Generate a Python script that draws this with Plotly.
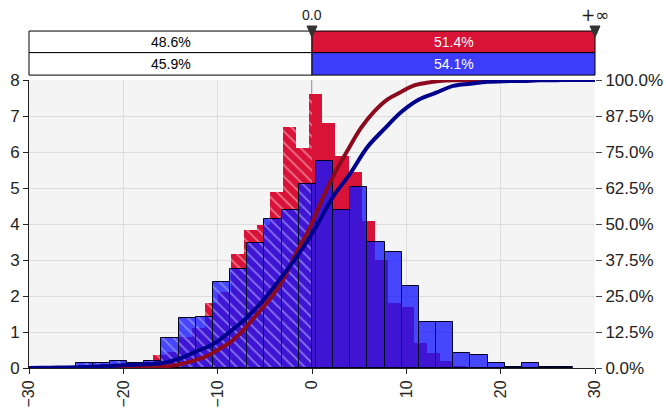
import numpy as np
import plotly.graph_objects as go

# ---------------- data ----------------
X_MIN, X_MAX = -30, 30
Y_MAX = 8
delimiters = [0.0, X_MAX]
delimiter_labels = ["0.0", "+∞"]

# red series histogram (density, % per unit)
red_start = -18.21
red_width = 1.38
red_heights = [0.1, 0.35, 0.45, 0.85, 1.1, 1.8, 2.1, 3.18, 3.83, 3.97, 4.9, 6.7, 6.1,
               7.6, 6.8, 5.89, 5.45, 4.08, 3.0, 1.8, 1.7, 0.7, 0.43, 0.2, 0.04, 0.02, 0.02]

# blue series histogram
blue_start = -30.52
blue_width = 1.82
blue_heights = [0.04, 0.04, 0.04, 0.13, 0.13, 0.19, 0.13, 0.2, 0.82, 1.38, 1.41, 2.39,
                2.75, 3.48, 4.14, 4.39, 5.11, 5.76, 4.39, 5.02, 3.49, 3.23, 2.29, 1.29,
                1.29, 0.41, 0.36, 0.13, 0.03, 0.13, 0.03, 0.03]

red_split = ["48.6%", "51.4%"]
blue_split = ["45.9%", "54.1%"]

RED = "#d91238"
RED_DARK = "#8c0a1e"
BLUE = "rgba(20,20,255,0.78)"
BLUE_HEADER = "#3c3cfa"
BLUE_DARK = "#00008c"
FONT = "Liberation Sans"


def split_bins(start, width, heights, d):
    hx, hw, hh, px, pw, ph = [], [], [], [], [], []
    for i, h in enumerate(heights):
        a = start + i * width
        b = a + width
        if b <= d:
            hx.append((a + b) / 2); hw.append(b - a); hh.append(h)
        elif a >= d:
            px.append((a + b) / 2); pw.append(b - a); ph.append(h)
        else:
            hx.append((a + d) / 2); hw.append(d - a); hh.append(h)
            px.append((d + b) / 2); pw.append(b - d); ph.append(h)
    return (hx, hw, hh), (px, pw, ph)


def cdf(start, width, heights):
    h = np.array(heights, dtype=float)
    edges = start + width * np.arange(len(h) + 1)
    cum = np.concatenate([[0.0], np.cumsum(h * width)])
    pct = cum / cum[-1] * 100
    xs = list(edges)
    ys = list(pct)
    if xs[0] > X_MIN:
        xs = [X_MIN] + xs
        ys = [0.0] + ys
    if xs[-1] < X_MAX:
        xs = xs + [X_MAX]
        ys = ys + [100.0]
    # map % onto the left (density) axis scale so draw order is kept
    return xs, [v / 100 * Y_MAX for v in ys]


fig = go.Figure()

d0 = delimiters[0]
(rhx, rhw, rhh), (rpx, rpw, rph) = split_bins(red_start, red_width, red_heights, d0)
(bhx, bhw, bhh), (bpx, bpw, bph) = split_bins(blue_start, blue_width, blue_heights, d0)

fig.add_trace(go.Bar(x=rhx, y=rhh, width=rhw, hoverinfo="skip",
                     marker=dict(color=RED, line=dict(width=0),
                                 pattern=dict(shape="\\", size=8, solidity=0.22,
                                              fgcolor="rgba(255,255,255,0.85)", bgcolor=RED))))
fig.add_trace(go.Bar(x=rpx, y=rph, width=rpw, hoverinfo="skip",
                     marker=dict(color=RED, line=dict(width=0))))
rx, ry = cdf(red_start, red_width, red_heights)
fig.add_trace(go.Scatter(x=rx, y=ry, mode="lines", hoverinfo="skip",
                         line=dict(color=RED_DARK, width=4, shape="spline", smoothing=1.0)))
fig.add_trace(go.Bar(x=bhx, y=bhh, width=bhw, hoverinfo="skip",
                     marker=dict(color=BLUE, line=dict(width=1, color="#000020"),
                                 pattern=dict(shape="\\", size=8, solidity=0.22,
                                              fgcolor="rgba(255,255,255,0.7)", bgcolor=BLUE))))
fig.add_trace(go.Bar(x=bpx, y=bph, width=bpw, hoverinfo="skip",
                     marker=dict(color=BLUE, line=dict(width=1, color="#000020"))))
bx, by = cdf(blue_start, blue_width, blue_heights)
fig.add_trace(go.Scatter(x=bx, y=by, mode="lines", hoverinfo="skip",
                         line=dict(color=BLUE_DARK, width=4, shape="spline", smoothing=1.0)))
# invisible trace to carry the right-hand percentage axis
fig.add_trace(go.Scatter(x=[X_MIN, X_MAX], y=[0, 100], yaxis="y2", mode="lines",
                         line=dict(width=0), opacity=0, hoverinfo="skip"))

# ---------------- header (delimiter bars) ----------------
def xp(v):
    return (v - X_MIN) / (X_MAX - X_MIN)

shapes = []
annotations = []
rows = [(1.095, 1.170, RED, red_split), (1.017, 1.095, BLUE_HEADER, blue_split)]
for y0, y1, col, labels in rows:
    shapes.append(dict(type="rect", xref="paper", yref="paper", x0=0, x1=xp(d0), y0=y0, y1=y1,
                       fillcolor="white", line=dict(color="black", width=1)))
    shapes.append(dict(type="rect", xref="paper", yref="paper", x0=xp(d0), x1=xp(delimiters[1]),
                       y0=y0, y1=y1, fillcolor=col, line=dict(color="black", width=1)))
    annotations.append(dict(xref="paper", yref="paper", x=xp(d0) / 2, y=(y0 + y1) / 2,
                            xanchor="center", yanchor="middle",
                            text=labels[0], showarrow=False,
                            font=dict(family=FONT, size=14, color="black")))
    annotations.append(dict(xref="paper", yref="paper", x=(xp(d0) + xp(delimiters[1])) / 2,
                            y=(y0 + y1) / 2, xanchor="center", yanchor="middle",
                            text=labels[1], showarrow=False,
                            font=dict(family=FONT, size=14, color="white")))

# delimiter vertical line through plot (below bars)
shapes.append(dict(type="line", xref="x", yref="paper", x0=d0, x1=d0, y0=0, y1=1.0,
                   line=dict(color="#555555", width=1), layer="below"))

half = 0.0088
label_fonts = [(FONT, 14), ("DejaVu Sans", 17)]
for d, lab, (fam, sz) in zip(delimiters, delimiter_labels, label_fonts):
    shapes.append(dict(type="path", xref="paper", yref="paper",
                       path=f"M {xp(d)-half},1.1875 L {xp(d)+half},1.1875 L {xp(d)},1.148 Z",
                       fillcolor="#333333", line=dict(color="#333333", width=1)))
    annotations.append(dict(xref="paper", yref="paper", x=xp(d), y=1.226, text=lab,
                            xanchor="center", yanchor="middle",
                            showarrow=False, font=dict(family=fam, size=sz, color="#222222")))

fig.update_layout(
    width=666, height=408,
    margin=dict(l=29, r=71, t=80, b=40),
    paper_bgcolor="white",
    plot_bgcolor="#f4f4f4",
    barmode="overlay",
    bargap=0,
    showlegend=False,
    font=dict(family=FONT, size=16, color="#222222"),
    shapes=shapes,
    annotations=annotations,
    xaxis=dict(range=[X_MIN, X_MAX], tickvals=list(range(X_MIN, X_MAX + 1, 10)),
               tickangle=-90, ticks="outside", ticklen=5, tickcolor="#222222",
               showline=True, linecolor="#222222", linewidth=1,
               showgrid=True, gridcolor="#dcdcdc", zeroline=False,
               tickfont=dict(family=FONT, size=16), automargin=False),
    yaxis=dict(range=[0, Y_MAX], dtick=1, ticks="outside", ticklen=5, tickcolor="#222222",
               showline=True, linecolor="#222222", linewidth=1,
               showgrid=True, gridcolor="#dcdcdc", zeroline=False,
               tickfont=dict(family=FONT, size=17), automargin=False),
    yaxis2=dict(overlaying="y", side="right", range=[0, 100], dtick=12.5,
                tickformat=".1f", ticksuffix="%", ticks="outside", ticklen=6,
                tickcolor="#444444", showline=False, showgrid=False, zeroline=False,
                tickfont=dict(family=FONT, size=17), automargin=False),
)

fig.write_html("out.html", config={"displayModeBar": False},
               post_script="document.body.style.margin='0';")
